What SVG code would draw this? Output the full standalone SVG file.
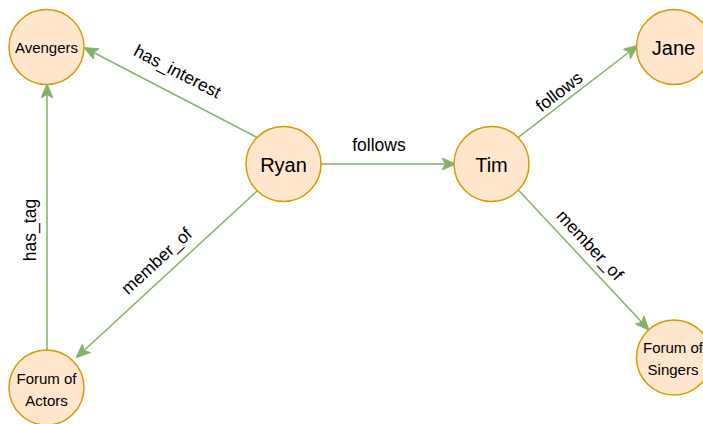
<svg xmlns="http://www.w3.org/2000/svg" width="703" height="424" viewBox="0 0 703 424">
<defs>
<style>
.node circle{fill:#ffe6cc;stroke:#d79b00;stroke-width:1.5}
.node text{font-family:"Liberation Sans",Arial,sans-serif;fill:#000;text-anchor:middle}
.big{font-size:20px}
.small{font-size:15px}
.edge{stroke:#82b366;stroke-width:1.5;fill:none;marker-end:url(#arr)}
.lbl{font-family:"Liberation Sans",Arial,sans-serif;font-size:17.5px;fill:#000;text-anchor:middle}
</style>
<marker id="arr" markerUnits="userSpaceOnUse" markerWidth="14" markerHeight="12" viewBox="0 0 14 12" refX="13" refY="6" orient="auto">
<path d="M0,0 L14,6 L0,12 L3.5,6 z" fill="#82b366" stroke="#82b366" stroke-width="1"/>
</marker>
</defs>
<rect width="703" height="424" fill="#ffffff"/>
<g id="connectors">
<line class="edge" x1="256.7" y1="137.3" x2="85" y2="48"/>
<line class="edge" x1="257.3" y1="190.7" x2="77" y2="357"/>
<line class="edge" x1="47" y1="350" x2="47" y2="85"/>
<line class="edge" x1="321" y1="164" x2="455" y2="164"/>
<line class="edge" x1="518.3" y1="137.3" x2="637" y2="46"/>
<line class="edge" x1="519" y1="190.7" x2="648.3" y2="329.3"/>
<text class="lbl" transform="translate(177.5,71.5) rotate(27.5)" dy="6">has_interest</text>
<text class="lbl" transform="translate(156.5,261) rotate(-42.6)" dy="6">member_of</text>
<text class="lbl" transform="translate(30,230) rotate(-90)" dy="6">has_tag</text>
<text class="lbl" x="379" y="150.5">follows</text>
<text class="lbl" transform="translate(559,91.7) rotate(-37.6)" dy="6">follows</text>
<text class="lbl" transform="translate(590,245) rotate(47)" dy="6">member_of</text>
</g>
<g id="node-avengers" class="node">
<circle cx="46.5" cy="47" r="37.5"/>
<text class="small" x="46.5" y="52.5">Avengers</text>
</g>
<g id="node-ryan" class="node">
<circle cx="283.5" cy="164" r="37.5"/>
<text class="big" x="283.5" y="171.5">Ryan</text>
</g>
<g id="node-tim" class="node">
<circle cx="491.5" cy="164" r="37.5"/>
<text class="big" x="491.5" y="171.5">Tim</text>
</g>
<g id="node-jane" class="node">
<circle cx="674" cy="47" r="37.5"/>
<text class="big" x="673.5" y="54.5">Jane</text>
</g>
<g id="node-forum-singers" class="node">
<circle cx="674" cy="357.5" r="37.5"/>
<text class="small" x="673" y="352.7">Forum of</text>
<text class="small" x="673" y="375.2">Singers</text>
</g>
<g id="node-forum-actors" class="node">
<circle cx="46.5" cy="387.5" r="37.5"/>
<text class="small" x="46.5" y="383.5">Forum of</text>
<text class="small" x="46.5" y="406">Actors</text>
</g>
</svg>
